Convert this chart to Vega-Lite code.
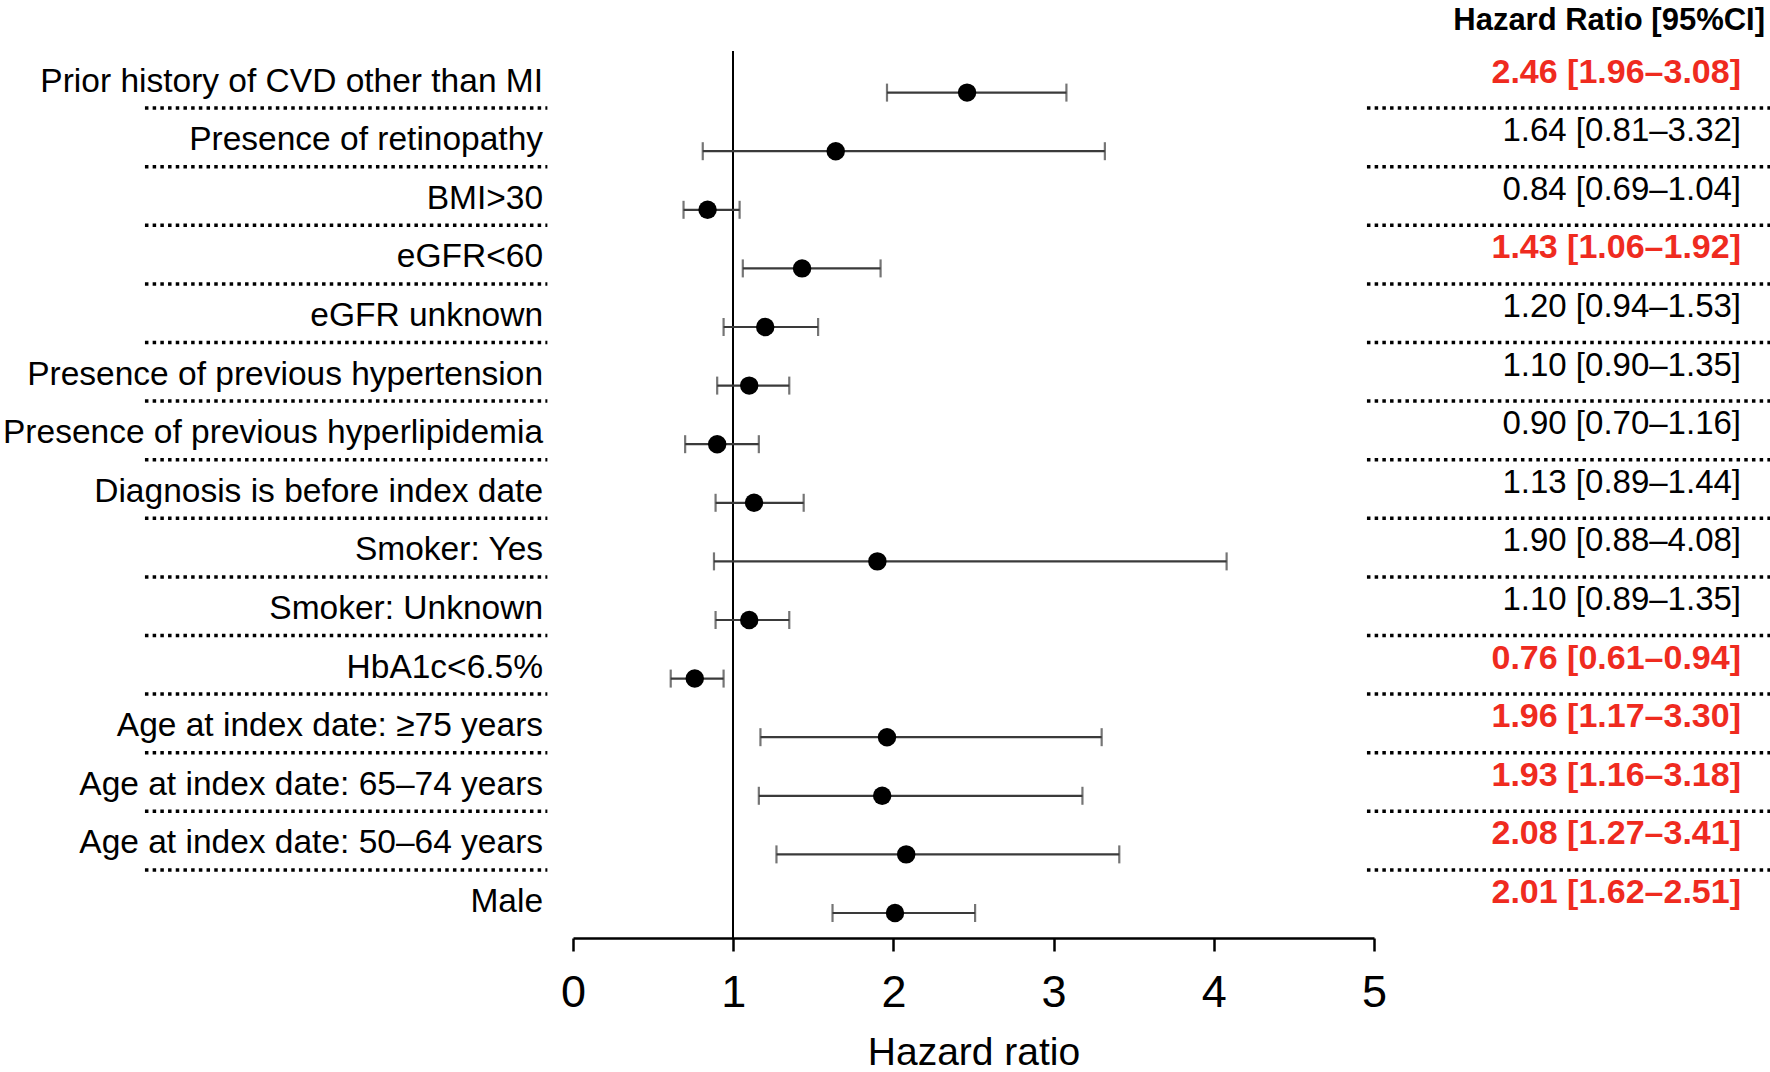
{
  "$schema": "https://vega.github.io/schema/vega-lite/v6.json",
  "width": 801,
  "height": 887,
  "autosize": {"type": "none"},
  "padding": {"left": 573, "top": 51, "right": 396, "bottom": 134},
  "background": "white",
  "config": {"view": {"stroke": null}, "font": "Liberation Sans"},
  "data": {
    "values": [
      {"row": 0, "name": "Prior history of CVD other than MI", "hr": 2.46, "lo": 1.96, "hi": 3.08, "sig": "yes", "ci": "2.46 [1.96–3.08]"},
      {"row": 1, "name": "Presence of retinopathy", "hr": 1.64, "lo": 0.81, "hi": 3.32, "sig": "no", "ci": "1.64 [0.81–3.32]"},
      {"row": 2, "name": "BMI>30", "hr": 0.84, "lo": 0.69, "hi": 1.04, "sig": "no", "ci": "0.84 [0.69–1.04]"},
      {"row": 3, "name": "eGFR<60", "hr": 1.43, "lo": 1.06, "hi": 1.92, "sig": "yes", "ci": "1.43 [1.06–1.92]"},
      {"row": 4, "name": "eGFR unknown", "hr": 1.20, "lo": 0.94, "hi": 1.53, "sig": "no", "ci": "1.20 [0.94–1.53]"},
      {"row": 5, "name": "Presence of previous hypertension", "hr": 1.10, "lo": 0.90, "hi": 1.35, "sig": "no", "ci": "1.10 [0.90–1.35]"},
      {"row": 6, "name": "Presence of previous hyperlipidemia", "hr": 0.90, "lo": 0.70, "hi": 1.16, "sig": "no", "ci": "0.90 [0.70–1.16]"},
      {"row": 7, "name": "Diagnosis is before index date", "hr": 1.13, "lo": 0.89, "hi": 1.44, "sig": "no", "ci": "1.13 [0.89–1.44]"},
      {"row": 8, "name": "Smoker: Yes", "hr": 1.90, "lo": 0.88, "hi": 4.08, "sig": "no", "ci": "1.90 [0.88–4.08]"},
      {"row": 9, "name": "Smoker: Unknown", "hr": 1.10, "lo": 0.89, "hi": 1.35, "sig": "no", "ci": "1.10 [0.89–1.35]"},
      {"row": 10, "name": "HbA1c<6.5%", "hr": 0.76, "lo": 0.61, "hi": 0.94, "sig": "yes", "ci": "0.76 [0.61–0.94]"},
      {"row": 11, "name": "Age at index date: ≥75 years", "hr": 1.96, "lo": 1.17, "hi": 3.30, "sig": "yes", "ci": "1.96 [1.17–3.30]"},
      {"row": 12, "name": "Age at index date: 65–74 years", "hr": 1.93, "lo": 1.16, "hi": 3.18, "sig": "yes", "ci": "1.93 [1.16–3.18]"},
      {"row": 13, "name": "Age at index date: 50–64 years", "hr": 2.08, "lo": 1.27, "hi": 3.41, "sig": "yes", "ci": "2.08 [1.27–3.41]"},
      {"row": 14, "name": "Male", "hr": 2.01, "lo": 1.62, "hi": 2.51, "sig": "yes", "ci": "2.01 [1.62–2.51]"}
    ]
  },
  "encoding": {
    "y": {"field": "row", "type": "quantitative", "scale": {"domain": [-0.71, 14.427], "reverse": true, "nice": false, "zero": false}, "axis": null}
  },
  "layer": [
    {
      "mark": {"type": "rule", "color": "black", "strokeWidth": 1.6},
      "encoding": {
        "x": {"datum": 1, "type": "quantitative", "scale": {"domain": [0, 5], "nice": false, "zero": false},
          "axis": {"values": [0, 1, 2, 3, 4, 5], "format": "d", "title": "Hazard ratio", "grid": false, "domainColor": "black", "domainWidth": 2.5,
            "tickColor": "black", "tickWidth": 2.5, "tickSize": 13, "labelFontSize": 45, "labelColor": "black", "labelPadding": 19,
            "labelFont": "Liberation Sans", "titleFont": "Liberation Sans", "titleFontSize": 39, "titleFontWeight": "normal", "titleColor": "black",
            "titleBaseline": "alphabetic", "titleY": 126, "labelFlush": false}},
        "y": {"value": 0},
        "y2": {"value": 887}
      }
    },
    {
      "mark": {"type": "rule", "color": "#3a3a3a", "strokeWidth": 2.2},
      "encoding": {
        "x": {"field": "lo", "type": "quantitative"},
        "x2": {"field": "hi"}
      }
    },
    {
      "mark": {"type": "tick", "orient": "vertical", "color": "#3a3a3a", "thickness": 2.2, "size": 18},
      "encoding": {"x": {"field": "lo", "type": "quantitative"}}
    },
    {
      "mark": {"type": "tick", "orient": "vertical", "color": "#3a3a3a", "thickness": 2.2, "size": 18},
      "encoding": {"x": {"field": "hi", "type": "quantitative"}}
    },
    {
      "mark": {"type": "point", "filled": true, "color": "black", "opacity": 1, "size": 340},
      "encoding": {"x": {"field": "hr", "type": "quantitative"}}
    },
    {
      "mark": {"type": "text", "align": "right", "baseline": "alphabetic", "fontSize": 33.5, "font": "Liberation Sans", "color": "black", "dy": -1},
      "encoding": {"x": {"datum": -0.187}, "text": {"field": "name"}}
    },
    {
      "transform": [{"filter": "datum.row < 14"}],
      "mark": {"type": "rule", "color": "black", "strokeWidth": 3.5, "strokeDash": [3.5, 4.2], "yOffset": 15.5},
      "encoding": {"x": {"datum": -2.672}, "x2": {"datum": -0.16}}
    },
    {
      "transform": [{"filter": "datum.row < 14"}],
      "mark": {"type": "rule", "color": "black", "strokeWidth": 3.5, "strokeDash": [3.5, 4.2], "yOffset": 15.5},
      "encoding": {"x": {"datum": 4.956}, "x2": {"datum": 7.472}}
    },
    {
      "transform": [{"filter": "datum.sig == 'no'"}],
      "mark": {"type": "text", "align": "right", "baseline": "alphabetic", "fontSize": 33, "font": "Liberation Sans", "color": "black", "dy": -10},
      "encoding": {"x": {"datum": 7.291}, "text": {"field": "ci"}}
    },
    {
      "transform": [{"filter": "datum.sig == 'yes'"}],
      "mark": {"type": "text", "align": "right", "baseline": "alphabetic", "fontSize": 34, "font": "Liberation Sans", "fontWeight": "bold", "color": "#ef2b1f", "dy": -10},
      "encoding": {"x": {"datum": 7.291}, "text": {"field": "ci"}}
    },
    {
      "transform": [{"filter": "datum.row == 0"}],
      "mark": {"type": "text", "align": "right", "baseline": "alphabetic", "fontSize": 31, "font": "Liberation Sans", "fontWeight": "bold", "color": "black", "dy": -63},
      "encoding": {"x": {"datum": 7.441}, "text": {"value": "Hazard Ratio [95%CI]"}}
    }
  ]
}
